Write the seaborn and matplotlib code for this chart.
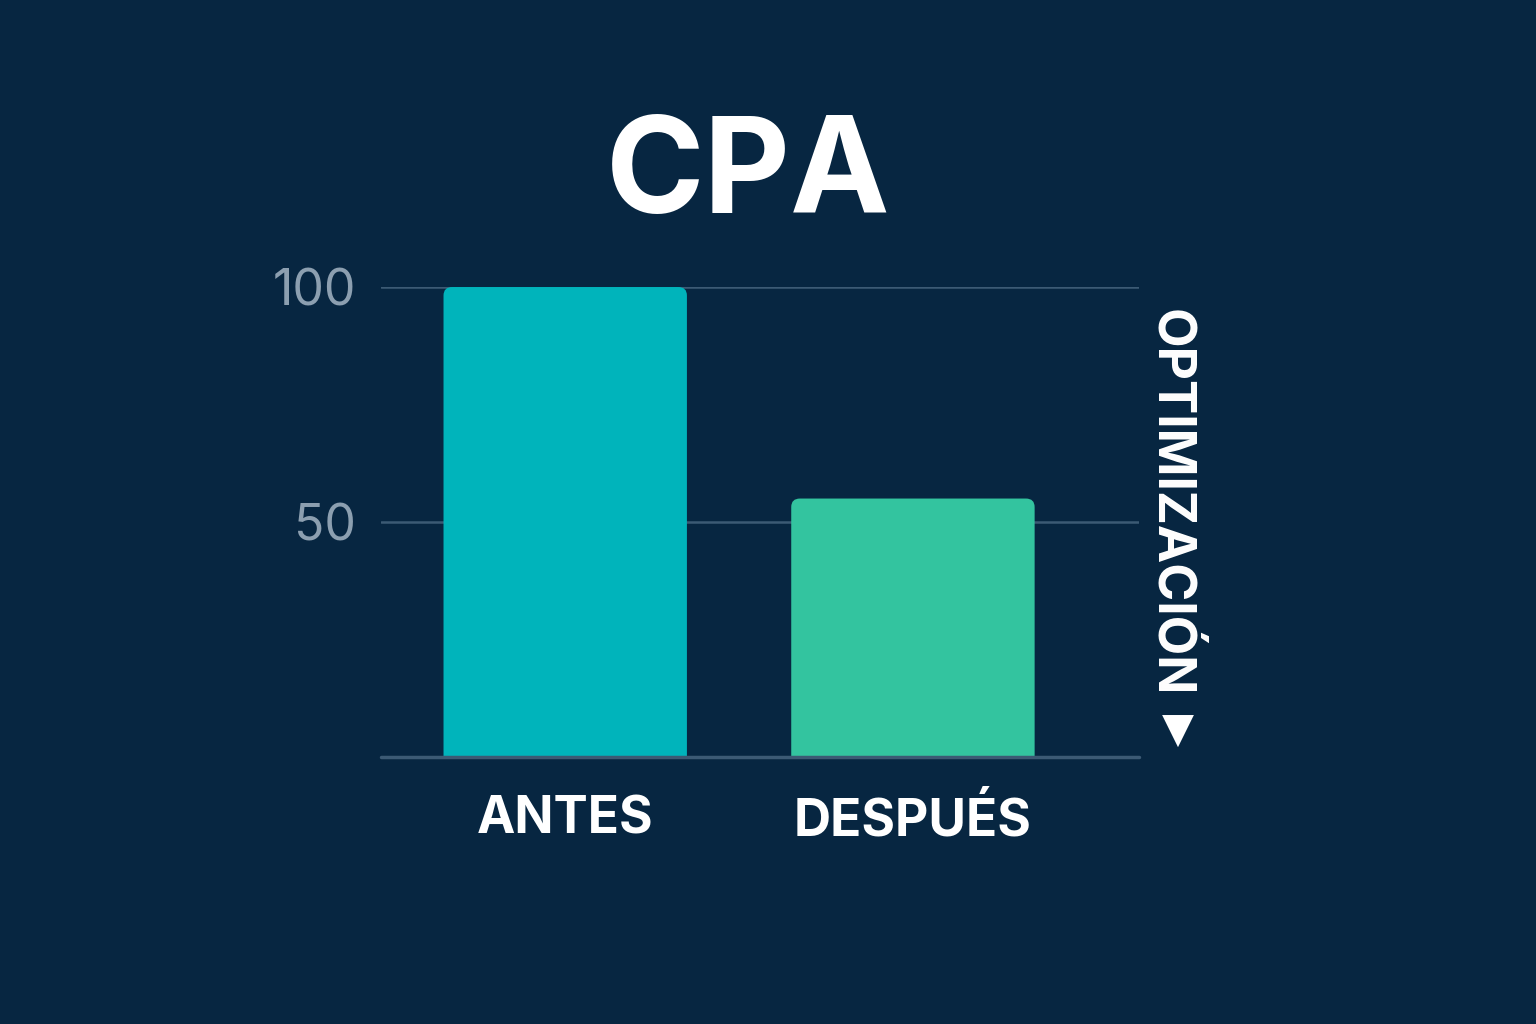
import pandas as pd
import numpy as np
import matplotlib.pyplot as plt
import seaborn as sns
from matplotlib.patches import FancyBboxPatch

categories = ["ANTES", "DESPUÉS"]
cpa_values = [100, 55]
bar_colors = ["#00B4BB", "#33C49F"]
y_ticks = [50, 100]
title_text = "CPA"
side_text = "OPTIMIZACIÓN"

bg = "#072641"
grid_c = "#3C5A74"
tick_c = "#8C9FB0"

sns.set_theme(style="dark")
plt.rcParams["font.family"] = ["Inter", "DejaVu Sans"]

df = pd.DataFrame({"etapa": categories, "cpa": cpa_values})

fig = plt.figure(figsize=(15.36, 10.24), dpi=100, facecolor=bg)
ax = fig.add_axes([0.248, 0.2607, 0.4935, 0.459])
ax.set_facecolor(bg)

sns.barplot(data=df, x="etapa", y="cpa", hue="etapa", palette=bar_colors,
            width=0.7, saturation=1, legend=False, ax=ax, zorder=3)

# rounded top corners
for p in list(ax.patches):
    x, y = p.get_x(), p.get_y()
    w, h = p.get_width(), p.get_height()
    fc = p.get_facecolor()
    p.remove()
    rb = FancyBboxPatch((x, y - 3), w, h + 3,
                        boxstyle="round,pad=0,rounding_size=0.025",
                        mutation_aspect=72, facecolor=fc, edgecolor="none",
                        zorder=3, clip_on=True)
    ax.add_patch(rb)

ax.set_xlim(-0.53, 1.65)
ax.set_ylim(0, 100)
ax.set_yticks(y_ticks)
ax.set_yticklabels([str(v) for v in y_ticks], color=tick_c, fontsize=36)
ax.yaxis.grid(True, color=grid_c, linewidth=1.8, zorder=1)
ax.xaxis.grid(False)
ax.axhline(0, color=grid_c, linewidth=2.5, zorder=4, clip_on=False)
ax.tick_params(axis="y", length=0, pad=18)
ax.tick_params(axis="x", length=0, pad=28)
for lbl in ax.get_xticklabels():
    lbl.set_color("white")
    lbl.set_fontsize(37)
    lbl.set_fontweight("bold")
ax.set_xlabel("")
ax.set_ylabel("")
for s in ax.spines.values():
    s.set_visible(False)

fig.text(0.487, 0.826, title_text, color="white", fontsize=96,
         fontweight="bold", ha="center", va="center")
fig.text(0.762, 0.509, side_text, color="white", fontsize=37,
         fontweight="bold", rotation=-90, ha="center", va="center")
fig.text(0.767, 0.286, "▼", color="white", fontsize=30,
         ha="center", va="center", family=["DejaVu Sans"])

fig.savefig("out.png", dpi=100, facecolor=bg)
